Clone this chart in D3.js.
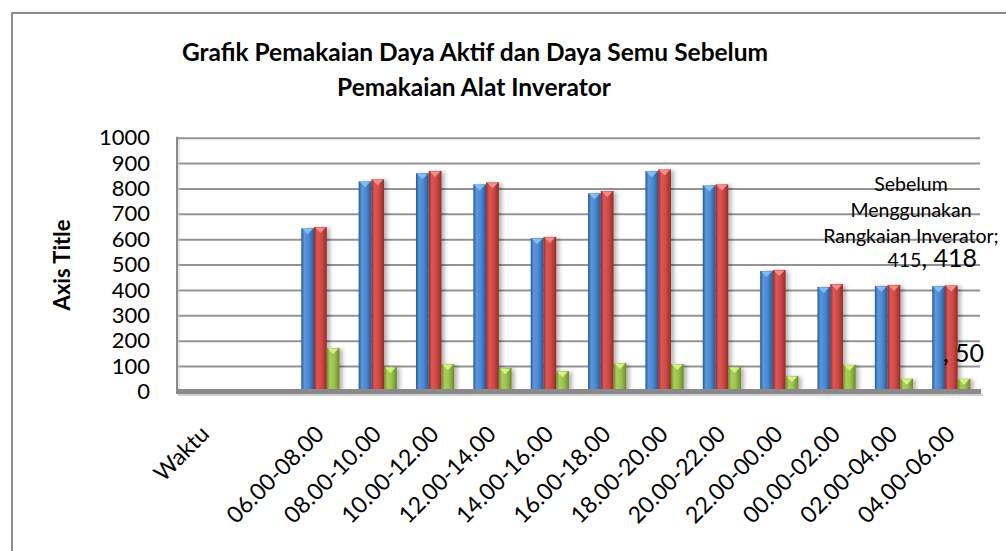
<!DOCTYPE html>
<html>
<head>
<meta charset="utf-8">
<script src="https://cdn.jsdelivr.net/npm/d3@7"></script>
<style>
body { margin: 0; background: #fff; }
text { font-family: Lato, "Noto Sans", sans-serif; fill: #000; }
</style>
</head>
<body>
<script>
// categories on the x axis (second one is empty in the original sheet)
var categories = ["Waktu", "", "06.00-08.00", "08.00-10.00", "10.00-12.00", "12.00-14.00",
    "14.00-16.00", "16.00-18.00", "18.00-20.00", "20.00-22.00", "22.00-00.00",
    "00.00-02.00", "02.00-04.00", "04.00-06.00"];

// blue series
var seriesBlue = [null, null, 643, 828, 860, 816, 604, 781, 868, 812, 475, 412, 416, 415];
// red series
var seriesRed = [null, null, 648, 836, 869, 824, 609, 790, 875, 816, 479, 423, 420, 418];
// green series
var seriesGreen = [null, null, 171, 97, 108, 92, 80, 112, 108, 97, 61, 105, 50, 50];

var yTicks = [0, 100, 200, 300, 400, 500, 600, 700, 800, 900, 1000];

var titleLines = ["Grafik Pemakaian Daya Aktif dan Daya Semu Sebelum", "Pemakaian Alat Inverator"];
var labelLines = ["Sebelum", "Menggunakan", "Rangkaian Inverator;"];

//dimensions..
var width = 1006;
var height = 551;
var plotLeft = 177, plotRight = 980, plotTop = 137.7, plotBottom = 391.5;

var svg = d3.select("body")
    .append("svg")
    .attr("width", width)
    .attr("height", height);

var defs = svg.append("defs");

// bar colours: dark edge, light middle, dark edge
var colors = [
    { dark: "#2b5a94", mid: "#4a88d2", light: "#5b97de", cap: "#8cc0f5" },
    { dark: "#962b28", mid: "#cf4a46", light: "#dc5855", cap: "#f59692" },
    { dark: "#6b8a2c", mid: "#9cc04e", light: "#a9cf5a", cap: "#dcf58a" }
];

colors.forEach(function(c, i) {
    var g = defs.append("linearGradient")
        .attr("id", "grad" + i)
        .attr("x1", "0%").attr("x2", "100%")
        .attr("y1", "0%").attr("y2", "0%");
    g.append("stop").attr("offset", "0%").attr("stop-color", c.dark);
    g.append("stop").attr("offset", "25%").attr("stop-color", c.light);
    g.append("stop").attr("offset", "60%").attr("stop-color", c.mid);
    g.append("stop").attr("offset", "100%").attr("stop-color", c.dark);
});

var shadow = defs.append("filter")
    .attr("id", "shadow")
    .attr("x", "-30%").attr("y", "-10%")
    .attr("width", "180%").attr("height", "130%");
shadow.append("feDropShadow")
    .attr("dx", 3).attr("dy", 1)
    .attr("stdDeviation", 2)
    .attr("flood-color", "#000")
    .attr("flood-opacity", 0.3);

// outer border of the chart
svg.append("rect")
    .attr("x", 12)
    .attr("y", 13)
    .attr("width", 1100)
    .attr("height", 700)
    .attr("fill", "none")
    .attr("stroke", "#8c8c8c")
    .attr("stroke-width", 2);

// scales
var x = d3.scaleBand()
    .domain(categories)
    .range([plotLeft, plotRight]);

var xs = d3.scaleBand()
    .domain([0, 1, 2])
    .range([0, x.bandwidth()])
    .paddingInner(0)
    .paddingOuter(0.75);

var y = d3.scaleLinear()
    .domain([0, 1000])
    .range([plotBottom, plotTop]);

// gridlines
var grid = svg.append("g")
    .attr("transform", "translate(" + plotLeft + ",0)")
    .call(d3.axisLeft(y).tickValues(yTicks).tickSize(-(plotRight - plotLeft)).tickFormat(""));
grid.select(".domain").remove();
grid.selectAll("line")
    .attr("stroke", "#939393")
    .attr("stroke-width", 2);

// left wall line
svg.append("line")
    .attr("x1", plotLeft).attr("x2", plotLeft)
    .attr("y1", y(1000) - 1).attr("y2", plotBottom)
    .attr("stroke", "#8c8c8c")
    .attr("stroke-width", 2);
svg.append("line")
    .attr("x1", plotLeft + 2).attr("x2", plotLeft + 2)
    .attr("y1", y(1000) + 1).attr("y2", plotBottom)
    .attr("stroke", "#d0d0d0")
    .attr("stroke-width", 1);

// y tick labels
var yAxis = svg.append("g")
    .attr("transform", "translate(" + plotLeft + ",0)")
    .call(d3.axisLeft(y).tickValues(yTicks).tickSize(0).tickPadding(27).tickFormat(d3.format("d")));
yAxis.select(".domain").remove();
yAxis.selectAll("text")
    .attr("font-family", "Lato, 'Noto Sans', sans-serif")
    .attr("font-size", 22)
    .attr("fill", "#000");

// bars
var allSeries = [seriesBlue, seriesRed, seriesGreen];
allSeries.forEach(function(values, s) {
    var g = svg.append("g").attr("class", "series" + s);
    categories.forEach(function(cat, i) {
        var v = values[i];
        if (v == null) return;
        var bx = x(cat) + xs(s);
        var bw = xs.bandwidth();
        g.append("rect")
            .attr("x", bx)
            .attr("y", y(v))
            .attr("width", bw)
            .attr("height", y(0) - y(v))
            .attr("fill", "url(#grad" + s + ")")
            .attr("filter", "url(#shadow)");
        // bevel cap on top
        g.append("polygon")
            .attr("points", [
                [bx + 1, y(v) + 0.5],
                [bx + bw - 1, y(v) + 0.5],
                [bx + bw / 2, y(v) + 6]
            ].map(function(p) { return p.join(","); }).join(" "))
            .attr("fill", colors[s].cap)
            .attr("opacity", 0.9);
    });
});

// floor
svg.append("rect")
    .attr("x", plotLeft - 1)
    .attr("y", plotBottom - 2.5)
    .attr("width", plotRight - plotLeft + 2)
    .attr("height", 5)
    .attr("fill", "#8a8a8a");
svg.append("rect")
    .attr("x", plotLeft + 1)
    .attr("y", plotBottom + 2.5)
    .attr("width", plotRight - plotLeft + 2)
    .attr("height", 2)
    .attr("fill", "#cfcfcf");

// x labels rotated
var xAxis = svg.append("g")
    .attr("transform", "translate(0," + plotBottom + ")")
    .call(d3.axisBottom(x).tickSize(0));
xAxis.select(".domain").remove();
xAxis.selectAll("text")
    .attr("x", 0)
    .attr("y", 0)
    .attr("dy", null)
    .attr("text-anchor", "end")
    .attr("transform", "translate(5,44) rotate(-45)")
    .attr("font-family", "Lato, 'Noto Sans', sans-serif")
    .attr("font-size", 23)
    .attr("fill", "#000");

// axis title
svg.append("text")
    .text("Axis Title")
    .attr("transform", "translate(70,265) rotate(-90)")
    .attr("text-anchor", "middle")
    .attr("font-size", 22)
    .attr("font-weight", "bold");

// chart title
svg.append("text")
    .text(titleLines[0])
    .attr("x", 475)
    .attr("y", 61)
    .attr("text-anchor", "middle")
    .attr("font-size", 24.5)
    .attr("font-weight", "bold");
svg.append("text")
    .text(titleLines[1])
    .attr("x", 474)
    .attr("y", 96)
    .attr("text-anchor", "middle")
    .attr("font-size", 24.5)
    .attr("font-weight", "bold");

// data label for the last blue/red point
labelLines.forEach(function(t, i) {
    svg.append("text")
        .text(t)
        .attr("x", 911)
        .attr("y", 191 + i * 25.8)
        .attr("text-anchor", "middle")
        .attr("font-size", 19.5);
});
var lastLine = svg.append("text")
    .attr("x", 977)
    .attr("y", 267)
    .attr("text-anchor", "end");
lastLine.append("tspan")
    .attr("font-size", 19.5)
    .text(seriesBlue[13]);
lastLine.append("tspan")
    .attr("font-size", 25)
    .text(", " + seriesRed[13]);

// data label for the last green point
svg.append("text")
    .text(", " + seriesGreen[13])
    .attr("x", 984)
    .attr("y", 362)
    .attr("text-anchor", "end")
    .attr("font-size", 25);
</script>
</body>
</html>
